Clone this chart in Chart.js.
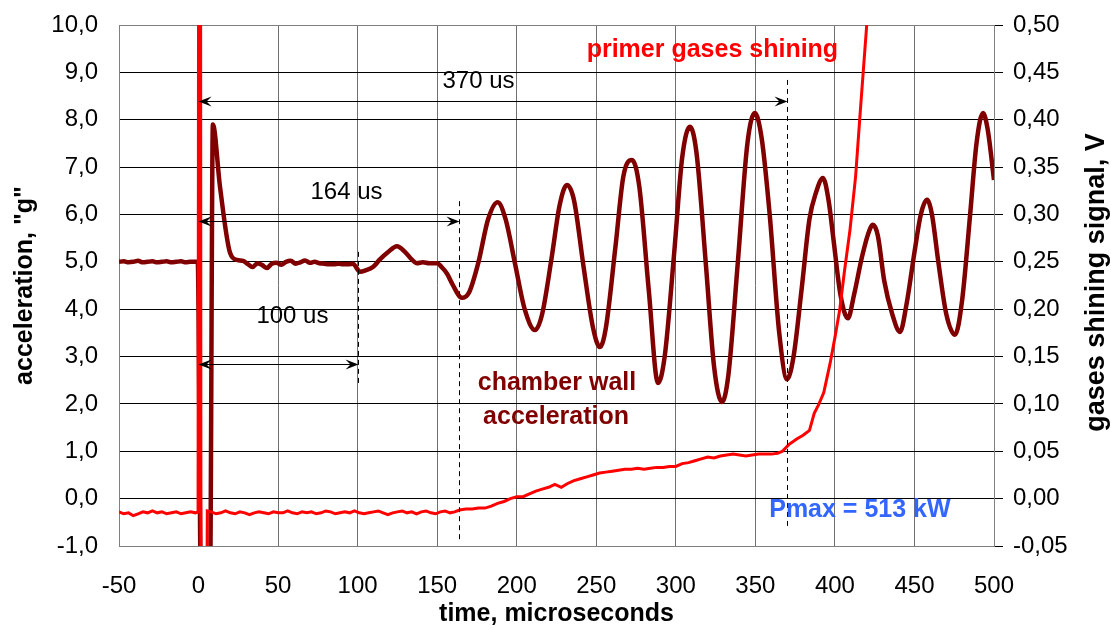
<!DOCTYPE html>
<html lang="en">
<head>
<meta charset="UTF-8">
<title>Chamber wall acceleration and primer gases shining</title>
<script src="https://cdn.jsdelivr.net/npm/chart.js"></script>
<style>
  html, body { margin: 0; padding: 0; background: #fff; }
  canvas { display: block; }
</style>
</head>
<body>
<canvas id="myChart" width="1111" height="628"></canvas>
<script>
// acceleration trace, "g" (left axis)
const accTime = [
  -50, -47, -44, -41, -38, -35, -32, -29, -26, -23, -20, -17, -14, -11, -8, -5, -2, -0.5,
  1.5, 7.2, 9, 13.5, 19.8, 24.2, 28, 31, 34, 37, 40, 43, 46, 49, 52, 55, 58, 61, 64, 67,
  70, 73, 76, 79, 82, 85, 88, 91, 94, 97, 101.5, 105, 109.6, 114, 119, 124.7, 130, 134,
  137.3, 141, 145, 150, 153, 156, 160, 164.3, 166,
  170, 176, 182, 188, 193, 199, 205, 211.5, 216, 222, 227, 231.6, 236, 242, 248, 252.3,
  256, 262, 267, 272.4, 277, 283, 288.8, 293, 299, 304, 308.9, 313, 319, 324, 329, 333,
  339, 345, 349.7, 354, 359, 365, 369.9, 374, 379, 384, 388, 392.5, 396, 399, 403.5,
  408.2, 412, 417, 421, 423.9, 427, 431, 436, 440.9, 445, 450, 454, 457.9, 461, 465,
  470, 475.5, 480, 485, 489, 493.1, 496, 500
];
const accG = [
  5.00, 5.01, 4.99, 5.00, 5.02, 4.99, 5.00, 5.01, 4.99, 5.00, 5.01, 4.99, 5.00, 5.01, 4.99, 5.00, 5.00, 5.00,
  -1.8, -1.8, 7.9, 6.58, 5.19, 5.04, 5.02, 4.95, 4.89, 4.97, 4.93, 4.87, 4.96, 4.98, 4.94, 5.00, 5.02, 4.96, 4.99, 5.03,
  4.98, 5.00, 4.97, 4.96, 4.95, 4.95, 4.96, 4.95, 4.95, 4.96, 4.79, 4.82, 4.89, 5.05, 5.20, 5.33, 5.20, 5.05,
  4.97, 4.99, 4.97, 4.97, 4.88, 4.76, 4.50, 4.26, 4.24,
  4.35, 5.0, 5.9, 6.26, 5.9, 4.95, 4.0, 3.56, 3.9, 5.1, 6.2, 6.62, 6.3, 4.9, 3.6, 3.20,
  3.6, 5.3, 6.8, 7.15, 6.6, 4.4, 2.44, 3.0, 5.2, 7.2, 7.85, 7.3, 4.9, 2.8, 2.04, 2.6,
  5.0, 7.5, 8.14, 7.6, 6.0, 3.5, 2.52, 3.0, 4.4, 5.9, 6.45, 6.77, 6.3, 5.5, 4.3,
  3.81, 4.3, 5.1, 5.6, 5.78, 5.55, 4.6, 3.9, 3.52, 4.1, 5.2, 6.0, 6.31, 6.0, 5.0,
  3.9, 3.46, 4.2, 6.0, 7.5, 8.14, 7.8, 6.73
];

// gases shining signal, V (right axis)
const gasTime = [
  -50, -47, -44, -41, -38, -35, -32, -29, -26, -23, -20, -17, -14, -11, -8, -5, -2,
  -0.3, 0.8, 2.0, 5.5,
  8, 11, 14, 17, 20, 23, 26, 29, 32, 35,
  38, 41, 44, 47, 50, 53, 56, 59, 62, 65,
  68, 71, 74, 77, 80, 83, 86, 89, 92, 95,
  98, 101, 104, 107, 110, 113, 116, 119, 122, 125,
  128, 131, 134, 137, 140, 143, 146, 149, 152, 155,
  158, 161, 164,
  168, 172, 176, 180, 184, 188, 192, 196, 200, 204,
  208, 212, 216, 220, 224, 228, 232, 236, 240, 244,
  248, 252, 256, 260, 264, 268, 272, 276, 280, 284,
  288, 292, 296, 300, 304, 308, 312, 316, 320, 324,
  328, 332, 336, 340, 344, 348, 352, 356, 360, 364,
  367, 371, 376, 380, 384, 387, 390, 393, 397, 400, 403, 406, 409.5, 413, 415.7, 418, 420, 423
];
const gasV = [
  -0.014, -0.016, -0.015, -0.018, -0.016, -0.014, -0.015, -0.013, -0.015, -0.014, -0.016, -0.015, -0.014, -0.016, -0.015, -0.014, -0.015,
  -0.014, 2.0, -1.5, -0.013,
  -0.014, -0.016, -0.015, -0.013, -0.015, -0.016, -0.014, -0.015, -0.017, -0.015,
  -0.014, -0.015, -0.016, -0.014, -0.015, -0.015, -0.013, -0.015, -0.016, -0.014,
  -0.015, -0.014, -0.016, -0.015, -0.013, -0.014, -0.016, -0.015, -0.014, -0.015,
  -0.013, -0.015, -0.016, -0.015, -0.014, -0.013, -0.015, -0.017, -0.015, -0.014,
  -0.013, -0.015, -0.014, -0.016, -0.014, -0.013, -0.015, -0.016, -0.014, -0.013,
  -0.015, -0.014, -0.012,
  -0.011, -0.011, -0.010, -0.010, -0.008, -0.005, -0.003, 0.000, 0.002, 0.002,
  0.005, 0.008, 0.010, 0.012, 0.015, 0.012, 0.016, 0.019, 0.021, 0.023,
  0.025, 0.027, 0.028, 0.029, 0.030, 0.031, 0.031, 0.032, 0.031, 0.032,
  0.033, 0.033, 0.034, 0.034, 0.037, 0.038, 0.040, 0.042, 0.044, 0.043,
  0.045, 0.046, 0.047, 0.046, 0.045, 0.046, 0.047, 0.047, 0.047, 0.048,
  0.050, 0.057, 0.063, 0.067, 0.072, 0.090, 0.100, 0.112, 0.143, 0.170, 0.199, 0.240, 0.284, 0.340, 0.403, 0.455, 0.500, 0.560
];

// time spans measured from the start (µs) and the marker lines
const spans = [
  { end: 370, level: 8.4, text: '370 us', labelX: 176, labelY: 8.8, lineTop: 8.84, lineBottom: -0.66 },
  { end: 164, level: 5.86, text: '164 us', labelX: 93, labelY: 6.47, lineTop: 6.28, lineBottom: -0.87 },
  { end: 100, level: 2.84, text: '100 us', labelX: 59, labelY: 3.84, lineTop: 5.21, lineBottom: 2.40 }
];

const FONT = "Arial, 'Liberation Sans', sans-serif";

const notes = [
  { text: 'primer gases shining', x: 323, y: 9.47, color: '#ff0000' },
  { text: 'chamber wall', x: 225.3, y: 2.44, color: '#800000' },
  { text: 'acceleration', x: 224.7, y: 1.72, color: '#800000' },
  { text: 'Pmax = 513 kW', x: 415.7, y: -0.24, color: '#3366ff' }
];

const rightTitle = 'gases shining signal, V';

const comma = (v, d) => v.toFixed(d).replace('.', ',');

function arrowHead(ctx, px, py, dir) {
  ctx.beginPath();
  ctx.moveTo(px, py);
  ctx.lineTo(px - dir * 13, py - 5);
  ctx.lineTo(px - dir * 8, py);
  ctx.lineTo(px - dir * 13, py + 5);
  ctx.closePath();
  ctx.fill();
}

// dashed markers, double arrows and the text notes on the plot
const annotations = {
  id: 'annotations',
  afterDatasetsDraw(chart) {
    const { ctx, scales: { x, y } } = chart;
    ctx.save();
    ctx.strokeStyle = '#000';
    ctx.fillStyle = '#000';
    ctx.lineWidth = 1;

    spans.forEach(s => {
      const x0 = x.getPixelForValue(0);
      const x1 = Math.round(x.getPixelForValue(s.end)) + 0.5;
      const py = Math.round(y.getPixelForValue(s.level)) + 0.5;

      ctx.setLineDash([5, 4]);
      ctx.beginPath();
      ctx.moveTo(x1, y.getPixelForValue(s.lineTop));
      ctx.lineTo(x1, y.getPixelForValue(s.lineBottom));
      ctx.stroke();
      ctx.setLineDash([]);

      ctx.beginPath();
      ctx.moveTo(x0 + 6, py);
      ctx.lineTo(x1 - 6, py);
      ctx.stroke();
      arrowHead(ctx, x0, py, -1);
      arrowHead(ctx, x1, py, 1);

      ctx.font = '24px ' + FONT;
      ctx.textAlign = 'center';
      ctx.textBaseline = 'middle';
      ctx.fillText(s.text, x.getPixelForValue(s.labelX), y.getPixelForValue(s.labelY));
    });

    ctx.font = 'bold 25px ' + FONT;
    ctx.textAlign = 'center';
    ctx.textBaseline = 'middle';
    notes.forEach(n => {
      ctx.fillStyle = n.color;
      ctx.fillText(n.text, x.getPixelForValue(n.x), y.getPixelForValue(n.y));
    });
    ctx.restore();
  },
  // right axis title reads bottom to top, like the left one
  afterDraw(chart) {
    const { ctx, chartArea } = chart;
    ctx.save();
    ctx.translate(chart.width - 14, (chartArea.top + chartArea.bottom) / 2 - 3);
    ctx.rotate(-Math.PI / 2);
    ctx.font = 'bold 27px ' + FONT;
    ctx.fillStyle = '#000';
    ctx.textAlign = 'center';
    ctx.textBaseline = 'middle';
    ctx.fillText(rightTitle, 0, 0);
    ctx.restore();
  }
};

const ctx = document.getElementById('myChart').getContext('2d');

new Chart(ctx, {
  type: 'line',
  data: {
    datasets: [
      {
        label: 'primer gases shining',
        data: gasTime.map((t, i) => ({ x: t, y: gasV[i] })),
        yAxisID: 'y2',
        borderColor: '#ff0000',
        borderWidth: 3,
        pointRadius: 0,
        tension: 0,
        clip: 0
      },
      {
        label: 'chamber wall acceleration',
        data: accTime.map((t, i) => ({ x: t, y: accG[i] })),
        yAxisID: 'y',
        borderColor: '#800000',
        borderWidth: 4.5,
        pointRadius: 0,
        cubicInterpolationMode: 'monotone',
        clip: 0
      }
    ]
  },
  options: {
    responsive: false,
    animation: false,
    events: [],
    layout: { padding: { top: 25, left: 0, right: 0, bottom: 0 } },
    plugins: {
      legend: { display: false },
      tooltip: { enabled: false }
    },
    scales: {
      x: {
        type: 'linear',
        position: 'bottom',
        min: -50,
        max: 500,
        ticks: {
          stepSize: 50,
          color: '#000',
          font: { family: FONT, size: 24 },
          padding: 26,
          maxRotation: 0,
          autoSkip: false
        },
        grid: {
          color: c => (c.tick && (c.tick.value === -50 || c.tick.value === 500)) ? '#808080' : '#707070',
          drawTicks: false,
          lineWidth: 1
        },
        border: { color: '#808080', width: 1 },
        title: {
          display: true,
          text: 'time, microseconds',
          color: '#000',
          font: { family: FONT, size: 25, weight: 'bold', lineHeight: 1 },
          padding: { top: 0, bottom: 1.5 }
        },
        afterFit: s => { s.height = 82; }
      },
      y: {
        position: 'left',
        min: -1,
        max: 10,
        ticks: {
          stepSize: 1,
          color: '#000',
          font: { family: FONT, size: 24 },
          padding: 0,
          callback: v => comma(v, 1)
        },
        // the gap before the labels is an invisible tick mark
        grid: {
          color: c => (c.tick && (c.tick.value === 10 || c.tick.value === -1)) ? '#808080' : '#000',
          drawTicks: true,
          tickLength: 21,
          tickColor: 'rgba(0,0,0,0)',
          lineWidth: 1
        },
        border: { color: '#808080', width: 1 },
        title: {
          display: true,
          text: 'acceleration, "g"',
          color: '#000',
          font: { family: FONT, size: 25, weight: 'bold', lineHeight: 1 },
          padding: { top: 12.5, bottom: 0 }
        },
        afterFit: s => { s.width = 119; }
      },
      y2: {
        position: 'right',
        min: -0.05,
        max: 0.5,
        ticks: {
          stepSize: 0.05,
          color: '#000',
          font: { family: FONT, size: 24 },
          padding: 10,
          callback: v => comma(v, 2)
        },
        grid: {
          drawOnChartArea: false,
          drawTicks: true,
          tickLength: 9,
          tickColor: '#000'
        },
        border: { color: '#808080', width: 1 },
        title: { display: false },
        afterFit: s => { s.width = 117; }
      }
    }
  },
  plugins: [annotations]
});
</script>
</body>
</html>
